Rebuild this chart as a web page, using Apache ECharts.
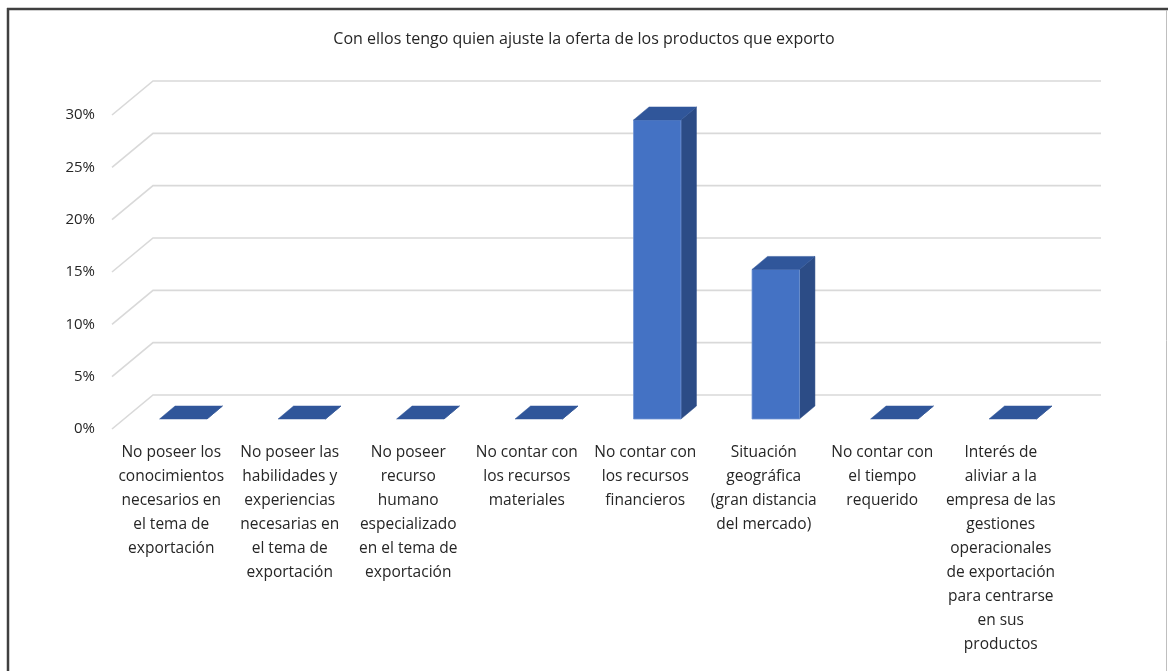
<!DOCTYPE html>
<html>
<head>
<meta charset="utf-8">
<script src="https://cdn.jsdelivr.net/npm/echarts@6/dist/echarts.min.js"></script>
<style>
  html, body { margin: 0; padding: 0; background: #fff; }
  #chart { width: 1168px; height: 671px; }
</style>
</head>
<body>
<div id="chart"></div>
<script>
// Chart title
const titleText = 'Con ellos tengo quien ajuste la oferta de los productos que exporto';

// Categories (line breaks as laid out under each bar)
const categories = [
  'No poseer los\nconocimientos\nnecesarios en\nel tema de\nexportación',
  'No poseer las\nhabilidades y\nexperiencias\nnecesarias en\nel tema de\nexportación',
  'No poseer\nrecurso\nhumano\nespecializado\nen el tema de\nexportación',
  'No contar con\nlos recursos\nmateriales',
  'No contar con\nlos recursos\nfinancieros',
  'Situación\ngeográfica\n(gran distancia\ndel mercado)',
  'No contar con\nel tiempo\nrequerido',
  'Interés de\naliviar a la\nempresa de las\ngestiones\noperacionales\nde exportación\npara centrarse\nen sus\nproductos'
];

// Share of responses per category
const values = [0, 0, 0, 0, 0.2857, 0.1429, 0, 0];

// Value axis ticks
const tickValues = [0, 0.05, 0.10, 0.15, 0.20, 0.25, 0.30];

// 3D look: offset of the back wall and of the bar box, in pixels
const WALL_DX = 41, WALL_DY = -34;
const BAR_DX = 12, BAR_DY = -10;
const DEPTH_DX = 15.5, DEPTH_DY = -13;

const FONT = '"Open Sans", "Noto Sans", sans-serif';
const TEXT_COLOR = '#262626';

const chart = echarts.init(document.getElementById('chart'), null, { renderer: 'canvas' });

function renderGridLine(params, api) {
  const cs = params.coordSys;
  const y = api.coord([0, api.value(1)])[1];
  const x0 = cs.x;
  const x1 = cs.x + cs.width;
  return {
    type: 'polyline',
    shape: {
      points: [
        [x0, y],
        [x0 + WALL_DX, y + WALL_DY],
        [x1 + WALL_DX, y + WALL_DY]
      ]
    },
    style: { stroke: '#d9d9d9', lineWidth: 1.6, fill: null },
    silent: true
  };
}

function renderBar(params, api) {
  const idx = api.value(0);
  const base = api.coord([idx, 0]);
  const top = api.coord([idx, api.value(1)]);
  const band = api.size([1, 0])[0];
  const w = band * 0.4;
  const xl = base[0] - w / 2 + BAR_DX;
  const xr = xl + w;
  const yb = base[1] + BAR_DY;
  const yt = top[1] + BAR_DY;
  const h = yb - yt;
  const children = [];
  // side face
  children.push({
    type: 'polygon',
    shape: { points: [[xr, yb], [xr + DEPTH_DX, yb + DEPTH_DY], [xr + DEPTH_DX, yt + DEPTH_DY], [xr, yt]] },
    style: { fill: '#2c4c86', stroke: '#2c4c86', lineWidth: 0.5 }
  });
  // front face
  if (h > 0) {
    children.push({
      type: 'rect',
      shape: { x: xl, y: yt, width: w, height: h },
      style: { fill: '#4472c4', stroke: '#6f93d3', lineWidth: 0.8 }
    });
  }
  // top face
  children.push({
    type: 'polygon',
    shape: { points: [[xl, yt], [xr, yt], [xr + DEPTH_DX, yt + DEPTH_DY], [xl + DEPTH_DX, yt + DEPTH_DY]] },
    style: { fill: '#30569a', stroke: '#30569a', lineWidth: 0.5 }
  });
  return { type: 'group', children: children };
}

const option = {
  backgroundColor: '#ffffff',
  animation: false,
  title: {
    text: titleText,
    left: 'center',
    top: 26,
    textStyle: { fontFamily: FONT, fontSize: 16, fontWeight: 'normal', color: TEXT_COLOR }
  },
  grid: { left: 112, right: 108, top: 115, bottom: 242, containLabel: false },
  xAxis: {
    type: 'category',
    data: categories,
    axisLine: { show: false },
    axisTick: { show: false },
    splitLine: { show: false },
    axisLabel: {
      interval: 0,
      margin: 12,
      fontFamily: FONT,
      fontSize: 15.5,
      lineHeight: 24,
      color: TEXT_COLOR,
      align: 'center',
      verticalAlign: 'top'
    }
  },
  yAxis: {
    type: 'value',
    min: 0,
    max: 0.3,
    interval: 0.05,
    axisLine: { show: false },
    axisTick: { show: false },
    splitLine: { show: false },
    axisLabel: {
      margin: 17,
      fontFamily: FONT,
      fontSize: 15,
      color: TEXT_COLOR,
      formatter: function (v) { return Math.round(v * 100) + '%'; }
    }
  },
  series: [
    {
      type: 'custom',
      name: 'grid',
      silent: true,
      z: 1,
      renderItem: renderGridLine,
      data: tickValues.map(function (v) { return [0, v]; })
    },
    {
      type: 'custom',
      name: 'bars',
      z: 2,
      renderItem: renderBar,
      encode: { x: 0, y: 1 },
      data: values.map(function (v, i) { return [i, v]; })
    }
  ],
  graphic: [
    { type: 'line', shape: { x1: 7, y1: 9, x2: 1168, y2: 9 }, style: { stroke: '#404040', lineWidth: 2.5 }, z: 100 },
    { type: 'line', shape: { x1: 8, y1: 8, x2: 8, y2: 671 }, style: { stroke: '#404040', lineWidth: 2.5 }, z: 100 },
    { type: 'line', shape: { x1: 1166.5, y1: 10, x2: 1166.5, y2: 671 }, style: { stroke: '#bfbfbf', lineWidth: 1 }, z: 100 }
  ]
};

chart.setOption(option);
</script>
</body>
</html>
